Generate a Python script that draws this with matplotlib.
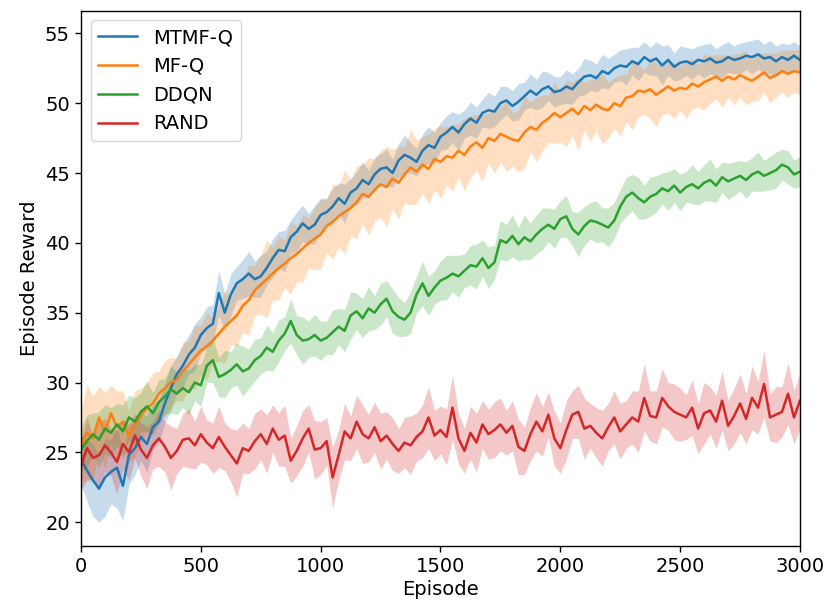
import numpy as np
import matplotlib
matplotlib.use("Agg")
import matplotlib.pyplot as plt

labels = ["MTMF-Q", "MF-Q", "DDQN", "RAND"]
colors = ["#1f77b4", "#ff7f0e", "#2ca02c", "#d62728"]

# mean reward, one value every 25 episodes (0..3000)
mtmf_q = [
    24.5, 23.7, 23.0, 22.4, 23.2, 23.6, 23.9, 22.6, 24.8, 25.3,
    26.1, 25.6, 26.8, 27.2, 28.5, 29.6, 30.6, 31.2, 32.0, 32.5,
    33.4, 33.9, 34.2, 36.4, 35.0, 36.3, 37.1, 37.4, 37.8, 37.4,
    37.6, 38.2, 38.9, 39.5, 39.4, 40.4, 40.8, 41.4, 41.0, 41.3,
    42.0, 42.2, 42.6, 43.2, 42.8, 43.6, 43.9, 44.5, 44.2, 44.9,
    45.3, 45.4, 45.0, 45.9, 46.3, 46.1, 45.8, 46.6, 47.0, 46.8,
    47.6, 47.9, 48.3, 47.9, 48.5, 48.9, 48.6, 49.3, 49.5, 49.4,
    50.0, 50.2, 49.8, 50.1, 50.5, 50.9, 50.6, 51.0, 51.2, 50.8,
    50.9, 51.2, 51.0, 51.5, 51.9, 52.0, 51.8, 52.3, 52.1, 52.5,
    52.7, 52.6, 53.0, 52.8, 53.3, 53.0, 53.2, 52.7, 53.1, 52.6,
    52.9, 53.0, 52.8, 53.1, 53.0, 53.2, 52.9, 53.0, 53.3, 53.1,
    53.2, 53.4, 53.3, 53.5, 53.2, 53.3, 53.0, 53.3, 53.1, 53.4,
    53.1,
]
mf_q = [
    25.5, 26.4, 26.0, 27.5, 26.5, 27.8, 26.8, 27.2, 26.2, 27.0,
    27.6, 28.2, 28.5, 29.2, 29.6, 30.0, 30.2, 30.8, 31.3, 31.8,
    32.3, 32.6, 33.0, 33.5, 34.0, 34.4, 34.8, 35.5, 35.9, 36.6,
    37.0, 37.4, 37.8, 38.2, 38.5, 38.9, 39.2, 39.6, 40.0, 40.3,
    40.6, 41.2, 41.5, 41.9, 42.2, 42.5, 42.9, 43.5, 43.3, 43.8,
    44.2, 44.0, 44.6, 44.3, 44.9, 45.4, 45.1, 45.6, 45.3, 46.0,
    45.8, 46.2, 46.1, 46.6, 46.3, 46.9, 47.2, 46.8, 47.5, 47.3,
    47.8, 47.6, 47.4, 47.3, 47.9, 48.3, 48.1, 48.6, 48.9, 49.3,
    49.0, 49.3, 49.6, 49.2, 49.8, 49.5, 49.9, 49.6, 49.5, 50.0,
    49.8, 50.4, 50.5, 50.9, 50.8, 51.0, 50.6, 50.9, 51.2, 50.9,
    51.1, 51.0, 51.4, 51.2, 51.5, 51.7, 51.9, 51.6, 51.9, 51.7,
    52.0, 51.8, 51.6, 51.9, 52.2, 51.8, 52.0, 52.3, 52.1, 52.3,
    52.2,
]
ddqn = [
    25.2, 25.8, 26.3, 25.9, 26.7, 26.4, 27.0, 26.5, 27.5, 27.2,
    27.9, 28.3, 27.8, 28.6, 29.0, 29.5, 29.2, 29.6, 29.3, 30.0,
    29.8, 31.2, 31.6, 30.4, 30.6, 30.9, 31.3, 30.8, 31.0, 31.6,
    31.9, 32.5, 32.2, 33.0, 33.5, 34.4, 33.4, 33.0, 33.1, 33.4,
    33.0, 33.2, 33.6, 34.0, 33.7, 34.8, 35.1, 34.6, 35.3, 35.0,
    35.6, 36.0, 35.1, 34.7, 34.5, 35.0, 36.3, 37.1, 36.2, 36.8,
    37.3, 37.5, 37.8, 37.6, 38.0, 38.4, 38.3, 38.9, 38.2, 38.6,
    40.2, 40.0, 40.5, 39.9, 40.4, 40.1, 40.6, 41.0, 41.3, 41.0,
    41.7, 41.9, 41.0, 40.6, 41.2, 41.6, 41.5, 41.3, 41.1, 41.6,
    42.6, 43.3, 43.6, 43.2, 42.9, 43.3, 43.5, 43.9, 43.7, 44.1,
    43.6, 44.0, 44.2, 43.9, 44.3, 44.5, 44.1, 44.7, 44.4, 44.6,
    44.8, 44.5, 44.9, 45.1, 44.8, 45.0, 45.2, 45.6, 45.4, 44.9,
    45.1,
]
rand = [
    24.0, 25.3, 24.6, 24.8, 25.5, 25.0, 24.3, 25.6, 25.0, 26.2,
    25.2, 24.6, 25.5, 26.0, 25.4, 24.6, 25.1, 25.9, 26.0, 25.5,
    26.3, 25.7, 25.3, 26.1, 25.4, 24.8, 24.2, 25.3, 25.1, 25.8,
    26.3, 25.6, 26.7, 25.9, 26.2, 24.4, 25.1, 26.0, 26.7, 25.2,
    25.3, 25.8, 23.2, 24.8, 26.5, 26.0, 27.2, 26.3, 26.0, 26.8,
    25.8, 26.2, 25.6, 25.1, 25.7, 25.5, 26.1, 26.5, 27.5, 26.2,
    26.6, 26.1, 28.2, 26.0, 25.1, 26.4, 25.7, 27.0, 26.3, 26.6,
    27.0, 26.4, 26.9, 25.4, 25.1, 26.3, 27.2, 26.5, 27.7, 26.0,
    25.3, 26.6, 27.7, 27.9, 26.7, 26.9, 26.4, 26.0, 26.8, 27.5,
    26.5, 27.0, 27.5, 27.2, 28.9, 27.6, 27.5, 28.9, 28.3, 27.9,
    27.7, 27.5, 28.2, 26.7, 27.8, 28.0, 27.2, 28.7, 26.9, 27.6,
    28.5, 27.4, 28.9, 28.2, 29.9, 27.5, 27.7, 27.9, 29.2, 27.5,
    28.7,
]

# half-width of the shaded band
mtmf_q_sd = [
    1.8, 2.2, 2.6, 2.4, 2.8, 2.3, 2.9, 2.5, 2.1, 1.9,
    1.7, 2.0, 1.6, 1.5, 1.4, 1.6, 1.3, 1.5, 1.4, 1.7,
    1.3, 1.5, 1.4, 1.6, 1.3, 1.5, 1.2, 1.4, 1.6, 1.3,
    1.5, 1.2, 1.4, 1.3, 1.5, 1.2, 1.4, 1.3, 1.1, 1.4,
    1.2, 1.0, 1.3, 1.1, 1.4, 1.0, 1.2, 1.3, 1.0, 1.2,
    1.1, 1.3, 1.0, 1.2, 1.4, 1.1, 1.0, 1.2, 1.3, 1.1,
    1.0, 1.2, 1.1, 1.3, 1.0, 1.2, 1.1, 1.0, 1.3, 1.1,
    1.2, 1.0, 1.1, 1.3, 1.0, 1.2, 1.1, 1.3, 1.0, 1.1,
    1.0, 1.2, 1.1, 1.0, 1.3, 1.1, 1.0, 1.2, 1.1, 1.0,
    1.1, 1.3, 1.0, 1.2, 1.1, 1.0, 1.2, 1.4, 1.1, 1.0,
    1.2, 1.0, 1.1, 1.0, 1.2, 1.1, 1.0, 1.2, 1.1, 1.0,
    1.1, 1.0, 1.2, 1.1, 1.0, 1.2, 1.1, 1.0, 1.1, 1.0,
    1.0,
]
mf_q_sd = [
    2.5, 3.5, 3.0, 2.2, 2.8, 2.0, 2.6, 2.2, 1.8, 2.4,
    2.0, 1.8, 2.2, 1.6, 2.0, 1.8, 1.5, 2.1, 1.7, 2.3,
    1.8, 2.4, 1.6, 2.0, 2.6, 1.7, 2.2, 1.9, 2.5, 1.8,
    2.1, 2.8, 1.9, 2.3, 1.7, 2.6, 2.0, 2.4, 1.8, 2.2,
    2.5, 1.9, 2.7, 2.2, 3.0, 2.0, 2.6, 2.1, 2.8, 2.2,
    2.4, 2.9, 2.1, 2.6, 2.0, 2.7, 2.3, 2.0, 2.5, 2.2,
    2.6, 2.1, 2.4, 1.9, 2.6, 2.2, 2.0, 2.4, 1.8, 2.3,
    2.0, 2.5, 1.9, 2.2, 2.6, 1.8, 2.3, 2.0, 1.7, 2.2,
    1.8, 2.4, 1.9, 2.6, 1.7, 2.2, 1.9, 2.5, 2.0, 1.8,
    2.2, 1.7, 2.4, 1.9, 1.6, 2.1, 2.3, 1.7, 1.9, 2.0,
    1.6, 2.1, 1.8, 1.5, 2.0, 1.7, 1.6, 1.9, 1.5, 1.8,
    1.6, 1.9, 1.5, 1.7, 1.4, 1.8, 1.6, 1.5, 1.7, 1.5,
    1.6,
]
ddqn_sd = [
    1.6, 1.9, 1.5, 2.0, 1.7, 1.8, 1.5, 1.9, 1.6, 1.7,
    1.4, 1.8, 1.5, 1.6, 1.3, 1.7, 1.5, 1.4, 1.6, 1.3,
    1.5, 1.2, 1.6, 1.4, 1.7, 1.3, 1.5, 1.8, 1.4, 1.5,
    1.3, 1.6, 1.4, 1.5, 1.2, 1.6, 1.4, 1.7, 1.3, 1.5,
    1.4, 1.2, 1.6, 1.3, 1.5, 1.7, 1.3, 1.4, 1.6, 1.2,
    1.5, 1.3, 1.6, 1.4, 1.2, 1.5, 1.3, 1.6, 1.4, 1.2,
    1.4, 1.6, 1.3, 1.5, 1.2, 1.4, 1.6, 1.3, 1.5, 1.2,
    1.4, 1.3, 1.5, 1.2, 1.6, 1.3, 1.4, 1.5, 1.2, 1.4,
    1.3, 1.5, 1.2, 1.6, 1.4, 1.3, 1.5, 1.2, 1.4, 1.3,
    1.2, 1.4, 1.3, 1.5, 1.2, 1.4, 1.3, 1.1, 1.4, 1.2,
    1.3, 1.1, 1.4, 1.2, 1.3, 1.5, 1.2, 1.1, 1.3, 1.2,
    1.1, 1.3, 1.2, 1.4, 1.1, 1.2, 1.3, 1.1, 1.2, 1.0,
    1.1,
]
rand_sd = [
    1.8, 2.2, 1.6, 2.4, 1.9, 1.7, 2.3, 1.8, 2.0, 1.6,
    1.9, 2.2, 1.7, 2.0, 1.8, 2.3, 1.6, 1.9, 2.1, 1.7,
    2.0, 1.6, 1.8, 2.2, 1.7, 1.9, 2.4, 1.8, 1.6, 2.0,
    1.8, 2.1, 1.7, 1.9, 2.2, 1.6, 1.8, 2.0, 1.7, 2.1,
    1.9, 1.7, 2.2, 1.8, 2.0, 1.6, 1.9, 2.1, 1.7, 1.8,
    2.0, 1.7, 1.9, 1.6, 1.8, 2.1, 1.7, 1.9, 2.2, 1.8,
    1.7, 2.0, 2.3, 1.8, 1.6, 1.9, 2.1, 1.7, 1.8, 2.0,
    1.9, 1.6, 1.8, 2.0, 1.7, 1.9, 2.1, 1.8, 1.6, 2.0,
    1.8, 2.1, 1.7, 1.9, 2.2, 1.6, 1.8, 2.0, 1.7, 1.9,
    2.0, 1.7, 1.9, 2.2, 2.4, 1.8, 1.9, 2.1, 1.7, 2.0,
    1.9, 1.6, 2.0, 1.8, 2.2, 1.7, 1.9, 2.1, 1.8, 2.0,
    2.1, 1.8, 2.3, 1.9, 2.4, 1.7, 2.0, 1.8, 2.2, 1.9,
    2.0,
]

x_ticks = [0, 500, 1000, 1500, 2000, 2500, 3000]
y_ticks = [20, 25, 30, 35, 40, 45, 50, 55]

means = [mtmf_q, mf_q, ddqn, rand]
sds = [mtmf_q_sd, mf_q_sd, ddqn_sd, rand_sd]

plt.rcParams["font.family"] = ["DejaVu Sans"]
fig = plt.figure(figsize=(8.29, 6.13), dpi=100)
ax = fig.add_axes([0.0977, 0.109, 0.8673, 0.8735])

for lab, col, m, s in zip(labels, colors, means, sds):
    m = np.asarray(m)
    s = np.asarray(s)
    ep = np.linspace(0, 3000, len(m))
    ax.fill_between(ep, m - s, m + s, color=col, alpha=0.25, linewidth=0)
    ax.plot(ep, m, color=col, lw=1.8, label=lab)

ax.set_xlim(0, 3000)
ax.set_ylim(18.28, 56.62)
ax.set_xticks(x_ticks)
ax.set_yticks(y_ticks)
ax.tick_params(labelsize=14, length=4.5, width=1.0)
for sp in ax.spines.values():
    sp.set_linewidth(1.0)
ax.set_xlabel("Episode", fontsize=14, labelpad=3)
ax.set_ylabel("Episode Reward", fontsize=14, labelpad=4)
ax.legend(loc="upper left", fontsize=14, handlelength=2.0)

fig.savefig("out.png", dpi=100)
